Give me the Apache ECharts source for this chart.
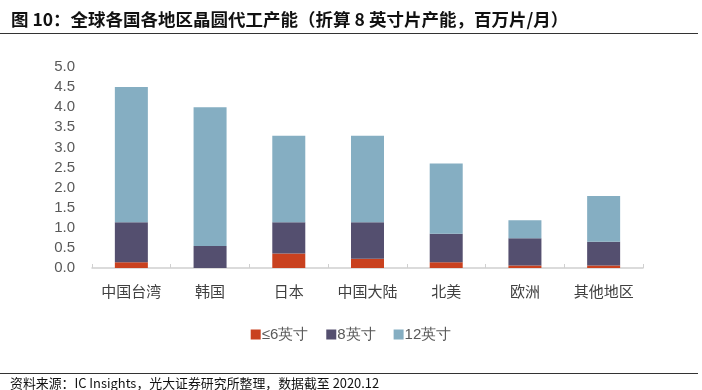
<!DOCTYPE html>
<html><head><meta charset="utf-8">
<script src="https://cdn.jsdelivr.net/npm/echarts@6/dist/echarts.min.js"></script>
<style>html,body{margin:0;padding:0;background:#fff}#c{width:702px;height:390px}</style>
</head><body><div id="c"></div>
<script>
const categories = ['中国台湾','韩国','日本','中国大陆','北美','欧洲','其他地区'];
const seriesNames = ['≤6英寸','8英寸','12英寸'];
const inch6 = [0.14, 0, 0.36, 0.23, 0.14, 0.06, 0.06];
const inch8 = [1.00, 0.55, 0.78, 0.91, 0.71, 0.68, 0.59];
const inch12 = [3.36, 3.45, 2.15, 2.15, 1.75, 0.45, 1.14];
const yTicks = [0, 0.5, 1, 1.5, 2, 2.5, 3, 3.5, 4, 4.5, 5];
const titleText = '图 10：全球各国各地区晶圆代工产能（折算 8 英寸片产能，百万片/月）';
const sourceText = '资料来源：IC Insights，光大证券研究所整理，数据截至 2020.12';
const colors = ['#c9411f', '#544f6f', '#85aec2'];

const chart = echarts.init(document.getElementById('c'), null, {renderer:'canvas'});
const font = '"Noto Sans CJK SC", "Noto Sans", sans-serif';
chart.setOption({
  animation:false,
  color: colors,
  textStyle:{fontFamily:font},
  title:[{
    text:titleText, left:6, top:6,
    textStyle:{fontSize:17.5, fontWeight:'bold', color:'#111', fontFamily:font}
  },{
    text:sourceText, left:5, top:372,
    textStyle:{fontSize:12.9, fontWeight:'normal', color:'#111', fontFamily:font}
  }],
  graphic:[
    {type:'line', shape:{x1:0,y1:33.5,x2:698,y2:33.5}, style:{stroke:'#333', lineWidth:1}},
    {type:'line', shape:{x1:0,y1:373.5,x2:698,y2:373.5}, style:{stroke:'#333', lineWidth:1}}
  ],
  legend:{
    data:seriesNames, left:'center', top:322, itemWidth:10, itemHeight:10, itemGap:18,
    icon:'rect',
    textStyle:{fontSize:15, color:'#595959', fontFamily:'"Liberation Sans", Arial, sans-serif', padding:[0,0,0,-4]}
  },
  grid:{left:92, right:59, top:67, bottom:122, containLabel:false},
  xAxis:{
    type:'category', data:categories,
    axisLine:{lineStyle:{color:'#d0d0d0', width:1.5}},
    axisTick:{show:true, inside:true, length:4, lineStyle:{color:'#d0d0d0'}},
    axisLabel:{fontSize:15, color:'#404040', margin:16, fontFamily:font}
  },
  yAxis:{
    type:'value', min:0, max:5, interval:0.5,
    splitLine:{show:false},
    axisLine:{show:false}, axisTick:{show:false},
    axisLabel:{fontSize:15, color:'#595959', margin:17, fontFamily:'"Liberation Sans", Arial, sans-serif',
      formatter:v=>v.toFixed(1)}
  },
  series:[
    {name:seriesNames[0], type:'bar', stack:'a', data:inch6, barWidth:33},
    {name:seriesNames[1], type:'bar', stack:'a', data:inch8, barWidth:33},
    {name:seriesNames[2], type:'bar', stack:'a', data:inch12, barWidth:33}
  ]
});
</script></body></html>
